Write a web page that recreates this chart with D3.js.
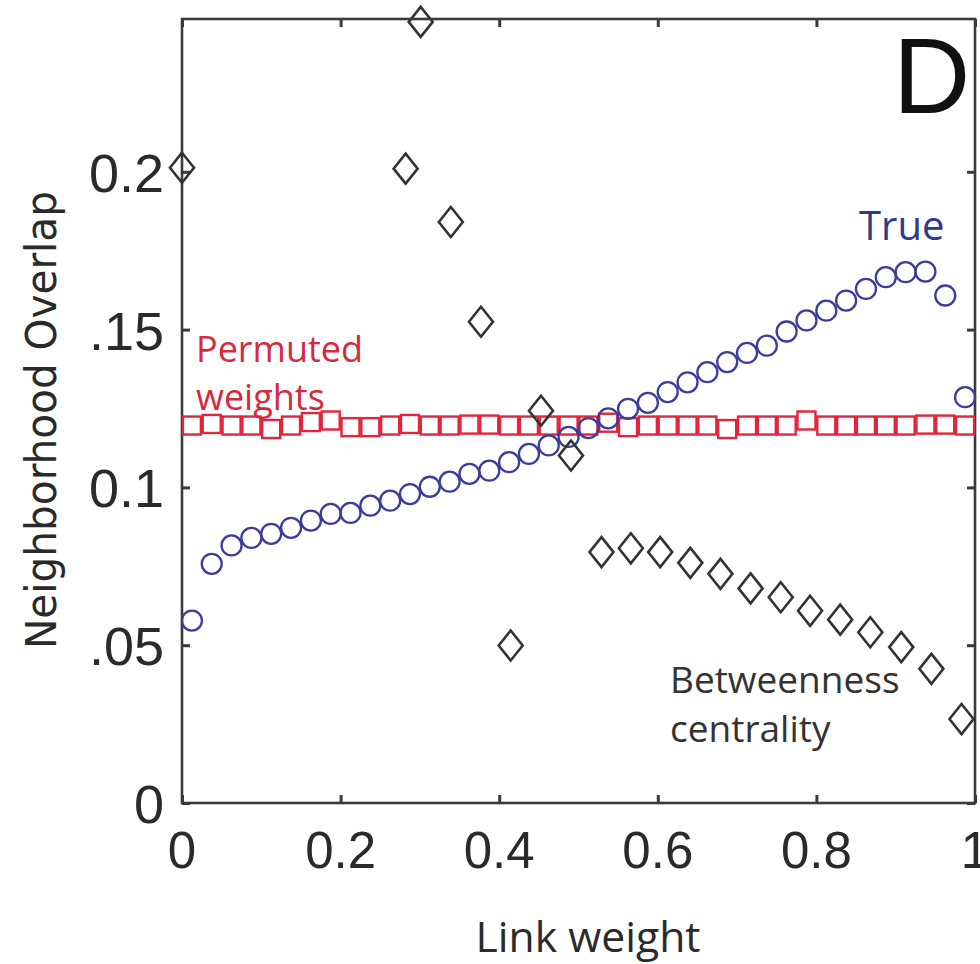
<!DOCTYPE html>
<html><head><meta charset="utf-8">
<script src="https://cdn.jsdelivr.net/npm/d3@7/dist/d3.min.js"></script>
<style>body{margin:0;background:#fff} svg{display:block}</style>
</head><body><svg id="c" width="980" height="964"></svg>
<script>
// Link-weight bin centres (x) shared by the "True" and "Permuted weights" series
const binX = [0.0125,0.0375,0.0625,0.0875,0.1125,0.1375,0.1625,0.1875,0.2125,0.2375,
  0.2625,0.2875,0.3125,0.3375,0.3625,0.3875,0.4125,0.4375,0.4625,0.4875,
  0.5125,0.5375,0.5625,0.5875,0.6125,0.6375,0.6625,0.6875,0.7125,0.7375,
  0.7625,0.7875,0.8125,0.8375,0.8625,0.8875,0.9125,0.9375,0.9625,0.9875];
const trueOverlap = [0.0578,0.0758,0.0816,0.0840,0.0853,0.0872,0.0895,0.0916,0.0919,0.0942,
  0.0958,0.0979,0.1002,0.1018,0.1043,0.1053,0.1080,0.1106,0.1133,0.1160,
  0.1188,0.1219,0.1249,0.1268,0.1302,0.1333,0.1365,0.1397,0.1426,0.1449,
  0.1494,0.1529,0.1560,0.1592,0.1629,0.1666,0.1682,0.1684,0.1608,0.1286];
const permutedOverlap = [0.1196,0.1201,0.1196,0.1196,0.1185,0.1196,0.1207,0.1212,0.1191,0.1191,
  0.1196,0.1201,0.1196,0.1196,0.1199,0.1199,0.1196,0.1196,0.1196,0.1196,
  0.1196,0.1205,0.1191,0.1196,0.1196,0.1196,0.1196,0.1185,0.1196,0.1196,
  0.1196,0.1212,0.1196,0.1196,0.1196,0.1196,0.1196,0.1199,0.1199,0.1196];
// Betweenness-centrality series (own x positions)
const betweennessX = [0.0,0.282,0.301,0.339,0.377,0.4145,0.4527,0.4905,0.529,0.566,0.603,
  0.641,0.679,0.717,0.755,0.792,0.830,0.868,0.907,0.945,0.983];
const betweennessOverlap = [0.2013,0.2010,0.2475,0.1841,0.1525,0.0499,0.1243,0.1101,0.0795,0.0807,0.0795,
  0.0761,0.0726,0.0680,0.0652,0.0609,0.0581,0.0541,0.0494,0.0425,0.0266];

const xTicks = [0, 0.2, 0.4, 0.6, 0.8, 1];
const xTickLabels = ["0", "0.2", "0.4", "0.6", "0.8", "1"];
const yTicks = [0, 0.05, 0.1, 0.15, 0.2];
const yTickLabels = ["0", ".05", "0.1", ".15", "0.2"];

const svg = d3.select("#c");
const L = 182, R = 975, T = 19, B = 803;
const x = d3.scaleLinear().domain([0, 1]).range([L, R]);
const y = d3.scaleLinear().domain([0, (B - T) / 3156]).range([B, T]);

const axisCol = "#3a3a3a";
// inward ticks on all four sides
const tickG = svg.append("g");
const ax = [
  [d3.axisBottom(x).tickValues(xTicks).tickSize(-8), `translate(0,${B})`],
  [d3.axisTop(x).tickValues(xTicks).tickSize(-8), `translate(0,${T})`],
  [d3.axisLeft(y).tickValues(yTicks).tickSize(-8), `translate(${L},0)`],
  [d3.axisRight(y).tickValues(yTicks).tickSize(-8), `translate(${R},0)`]
];
ax.forEach(([a, tr]) => {
  const g = tickG.append("g").attr("transform", tr).call(a.tickFormat(""));
  g.select(".domain").remove();
  g.selectAll("line").attr("stroke", axisCol).attr("stroke-width", 3);
});
svg.append("rect").attr("x", L).attr("y", T).attr("width", R - L).attr("height", B - T)
  .attr("fill", "none").attr("stroke", axisCol).attr("stroke-width", 2.6);

// tick labels
svg.append("g").selectAll("text").data(xTicks).join("text")
  .attr("x", d => x(d)).attr("y", 868).attr("text-anchor", "middle")
  .attr("font-family", "Liberation Sans, Arial, sans-serif").attr("font-size", 51)
  .attr("fill", "#2a2a2a").text((d, i) => xTickLabels[i]);
svg.append("g").selectAll("text").data(yTicks).join("text")
  .attr("x", 164).attr("y", d => y(d) + 20).attr("text-anchor", "end")
  .attr("font-family", "Liberation Sans, Arial, sans-serif").attr("font-size", 54)
  .attr("fill", "#2a2a2a").text((d, i) => yTickLabels[i]);

// axis titles
svg.append("text").attr("x", 588).attr("y", 952).attr("text-anchor", "middle")
  .attr("font-family", "Open Sans, sans-serif").attr("font-size", 42)
  .attr("textLength", 225).attr("lengthAdjust", "spacingAndGlyphs")
  .attr("fill", "#2a2a2a").text("Link weight");
svg.append("text").attr("transform", "translate(56,420) rotate(-90)").attr("text-anchor", "middle")
  .attr("font-family", "Liberation Sans Narrow, DejaVu Sans Condensed, sans-serif").attr("font-size", 42)
  .attr("textLength", 458).attr("lengthAdjust", "spacingAndGlyphs")
  .attr("fill", "#2a2a2a").text("Neighborhood Overlap");

// series
const blue = "#3c3c9c", red = "#e3243b", dark = "#333333";
svg.append("g").selectAll("rect").data(binX).join("rect")
  .attr("x", (d) => x(d) - 9).attr("y", (d, i) => y(permutedOverlap[i]) - 9)
  .attr("width", 18).attr("height", 18)
  .attr("fill", "none").attr("stroke", red).attr("stroke-width", 2.4);
svg.append("g").selectAll("circle").data(binX).join("circle")
  .attr("cx", d => x(d)).attr("cy", (d, i) => y(trueOverlap[i])).attr("r", 10)
  .attr("fill", "none").attr("stroke", blue).attr("stroke-width", 2.3);
svg.append("g").selectAll("path").data(betweennessX).join("path")
  .attr("d", (d, i) => {
    const cx = x(d), cy = y(betweennessOverlap[i]);
    return `M${cx},${cy - 15}L${cx + 12},${cy}L${cx},${cy + 15}L${cx - 12},${cy}Z`;
  })
  .attr("fill", "none").attr("stroke", dark).attr("stroke-width", 2.6);

// annotations
const ann = svg.append("g").attr("font-family", "Open Sans, sans-serif");
ann.append("text").attr("x", 859).attr("y", 240).attr("font-size", 40).attr("fill", "#2b3a8c").text("True");
ann.append("text").attr("x", 196).attr("y", 362).attr("font-size", 36).attr("fill", "#d42a3e").text("Permuted");
ann.append("text").attr("x", 196).attr("y", 410).attr("font-size", 36).attr("fill", "#d42a3e").text("weights");
ann.append("text").attr("x", 670).attr("y", 693).attr("font-size", 37).attr("fill", "#333").text("Betweenness");
ann.append("text").attr("x", 670).attr("y", 742).attr("font-size", 37).attr("fill", "#333").text("centrality");
svg.append("text").attr("x", 893).attr("y", 113).attr("font-family", "Liberation Sans, Arial, sans-serif")
  .attr("font-size", 107).attr("fill", "#111").text("D");
</script></body></html>
